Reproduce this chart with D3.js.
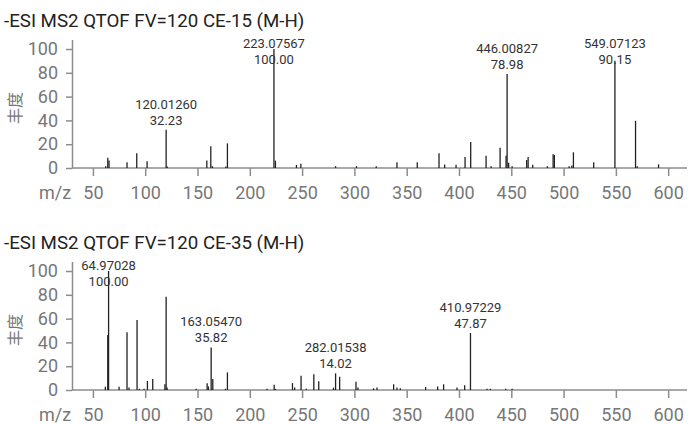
<!DOCTYPE html>
<html>
<head>
<meta charset="utf-8">
<script src="https://cdn.jsdelivr.net/npm/d3@7"></script>
<style>
  body { margin: 0; background: #fff; }
  svg { display: block; font-family: Roboto, "Noto Sans", sans-serif; }
  .title { font-size: 18.7px; fill: #222; }
  .axis path, .axis line { stroke: #8c8c8c; stroke-width: 1.5; }
  .axis text { font-size: 18px; fill: #777; font-family: Roboto, sans-serif; }
  .ylab { font-size: 16px; fill: #777; font-family: "Noto Sans CJK SC", sans-serif; }
  .ann { font-size: 13px; fill: #333; }
</style>
</head>
<body>
<div id="chart"></div>
<script>
// spectrum 1 : CE-15
var titles = ["-ESI MS2 QTOF FV=120 CE-15 (M-H)", "-ESI MS2 QTOF FV=120 CE-35 (M-H)"];

var mz15 = [62.2, 64.2, 65.4, 82.6, 91.9, 101.8, 120.0126, 121.0, 158.9, 162.7, 164.3, 177.1, 178.6,
  223.07567, 224.5, 244.6, 248.8, 282.0, 302.0, 320.9, 340.7, 360.1, 380.9, 386.3, 397.2, 405.8,
  411.2, 425.9, 430.7, 439.3, 445.0, 446.00827, 447.5, 450.8, 464.7, 466.1, 470.5, 484.5, 490.0,
  491.2, 505.3, 507.9, 509.4, 528.8, 549.07123, 568.8, 570.4, 590.8];
var int15 = [1.5, 8.7, 6.4, 4.8, 12.3, 5.6, 32.23, 1.2, 6.4, 18.3, 1.5, 1.2, 20.7,
  100.00, 6.2, 2.5, 3.6, 1.5, 1.5, 1.5, 4.8, 4.8, 12.3, 3.0, 2.8, 9.2,
  21.8, 10.3, 1.5, 17.0, 10.3, 78.98, 4.5, 1.5, 6.7, 9.2, 2.8, 1.5, 11.5,
  10.9, 1.5, 2.0, 13.2, 4.8, 90.15, 39.7, 1.5, 3.1];
var labels15 = [120.0126, 223.07567, 446.00827, 549.07123];

// spectrum 2 : CE-35
var mz35 = [61.9, 64.2, 64.97028, 75.0, 82.6, 84.5, 92.2, 94.4, 98.9, 102.1, 107.2, 118.8, 120.0,
  120.9, 148.7, 159.2, 160.4, 163.0547, 164.6, 176.7, 178.6, 216.5, 223.3, 224.5, 240.8, 242.9,
  249.0, 253.9, 261.2, 265.9, 280.0, 282.01538, 285.9, 301.5, 303.4, 318.3, 321.6, 337.5, 340.7,
  343.9, 368.1, 379.6, 385.3, 398.1, 405.4, 410.97229, 426.8, 430.0, 444.7, 450.8];
var int35 = [2.8, 46.2, 100.00, 2.8, 48.5, 2.0, 58.8, 1.0, 1.0, 7.6, 9.2, 4.8, 78.4,
  2.0, 1.0, 5.6, 3.0, 35.82, 9.2, 1.0, 14.8, 1.0, 4.5, 1.0, 5.8, 2.0,
  12.0, 1.0, 13.3, 7.3, 2.0, 14.02, 11.2, 7.0, 2.0, 1.5, 2.0, 4.8, 2.0,
  1.5, 2.5, 3.0, 4.8, 2.0, 4.0, 47.87, 1.0, 1.0, 1.0, 1.0];
var labels35 = [64.97028, 163.0547, 282.01538, 410.97229];

var xTicks = [50, 100, 150, 200, 250, 300, 350, 400, 450, 500, 550, 600];
var yTicks = [0, 20, 40, 60, 80, 100];

var width = 688, height = 425;
var svg = d3.select("#chart").append("svg")
    .attr("width", width)
    .attr("height", height);

var x = d3.scaleLinear().domain([30, 618]).range([72, 687]);

function drawPanel(top, title, mzs, ints, labelled) {
    var base = top + 168;
    var y = d3.scaleLinear().domain([0, 108]).range([base, base - 128.5]);

    svg.append("text")
        .attr("class", "title")
        .attr("x", 4)
        .attr("y", top + 27)
        .text(title);

    // x axis
    var gx = svg.append("g")
        .attr("class", "axis")
        .attr("transform", "translate(0," + base + ")")
        .call(d3.axisBottom(x).tickValues(xTicks).tickSize(8).tickSizeOuter(0).tickPadding(10));
    gx.select(".domain").attr("d", "M" + x.range()[0] + ",0H" + x.range()[1]);

    svg.append("text")
        .attr("x", 39)
        .attr("y", base + 31)
        .style("font-size", "18px")
        .style("fill", "#777")
        .text("m/z");

    // y axis
    svg.append("g")
        .attr("class", "axis")
        .attr("transform", "translate(72,0)")
        .call(d3.axisLeft(y).tickValues(yTicks).tickSize(6).tickSizeOuter(0).tickPadding(8));

    svg.append("text")
        .attr("class", "ylab")
        .attr("transform", "translate(21," + (base - 60) + ") rotate(-90)")
        .attr("text-anchor", "middle")
        .text("丰度");

    var peaks = mzs.map(function(m, i) { return {mz: m, it: ints[i]}; });

    svg.append("g").selectAll("line")
        .data(peaks)
        .enter().append("line")
        .attr("x1", function(d) { return x(d.mz); })
        .attr("x2", function(d) { return x(d.mz); })
        .attr("y1", base)
        .attr("y2", function(d) { return y(d.it); })
        .attr("stroke", "#222")
        .attr("stroke-width", 1.3);

    var ann = peaks.filter(function(d) { return labelled.indexOf(d.mz) >= 0; });
    var g = svg.append("g").selectAll("g")
        .data(ann)
        .enter().append("g");
    g.append("text")
        .attr("class", "ann")
        .attr("text-anchor", "middle")
        .attr("x", function(d) { return x(d.mz); })
        .attr("y", function(d) { return Math.max(y(d.it) - 21, y(100) - 1); })
        .text(function(d) { return d.mz.toFixed(5); });
    g.append("text")
        .attr("class", "ann")
        .attr("text-anchor", "middle")
        .attr("x", function(d) { return x(d.mz); })
        .attr("y", function(d) { return Math.max(y(d.it) - 21, y(100) - 1) + 16; })
        .text(function(d) { return d.it.toFixed(2); });
}

drawPanel(0, titles[0], mz15, int15, labels15);
drawPanel(222, titles[1], mz35, int35, labels35);
</script>
</body>
</html>
